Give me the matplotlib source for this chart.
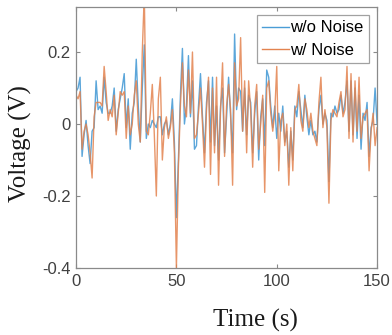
import matplotlib
matplotlib.use("Agg")
import matplotlib.pyplot as plt
import numpy as np

time_s = list(range(0, 151))

voltage_wo_noise = [
    0.09, 0.10, 0.13, -0.09, -0.03, 0.01, -0.06, -0.11, -0.02, -0.01,
    0.12, 0.04, 0.05, 0.03, 0.13, 0.06, 0.03, 0.03, 0.05, 0.10,
    -0.02, 0.04, 0.07, 0.10, 0.14, -0.01, 0.07, -0.07, 0.03, 0.06,
    0.18, 0.05, -0.05, 0.10, 0.22, -0.04, 0.00, -0.01, 0.01, 0.00,
    -0.01, 0.02, 0.02, -0.03, 0.00, 0.01, -0.03, 0.00, 0.07, -0.05,
    -0.26, -0.10, 0.08, 0.21, 0.00, 0.05, 0.19, 0.02, 0.12, -0.07,
    -0.06, 0.05, 0.14, 0.02, -0.08, 0.06, 0.12, -0.05, 0.13, -0.06,
    0.05, -0.10, 0.05, 0.10, -0.08, 0.02, 0.13, 0.02, -0.08, 0.25,
    0.04, 0.10, 0.09, -0.02, 0.10, -0.03, 0.08, 0.06, -0.08, 0.03,
    0.09, -0.10, 0.02, 0.07, -0.06, 0.15, 0.13, 0.05, -0.01, 0.05,
    -0.04, 0.03, -0.02, 0.05, -0.05, -0.02, -0.12, -0.02, -0.10, 0.05,
    0.02, 0.09, 0.04, -0.01, 0.08, 0.02, -0.03, 0.01, -0.03, -0.02,
    -0.05, 0.04, 0.08, 0.00, 0.03, 0.01, -0.16, 0.03, 0.02, 0.05,
    0.03, 0.04, 0.08, 0.03, 0.06, 0.12, -0.02, 0.12, -0.03, 0.10,
    -0.04, 0.08, -0.07, 0.03, 0.01, 0.06, -0.09, -0.01, 0.01, 0.10,
    0.00,
]

voltage_w_noise = [
    0.08, 0.07, 0.09, -0.07, -0.02, 0.00, -0.03, -0.08, -0.15, 0.02,
    0.06, 0.06, 0.06, 0.05, 0.16, 0.09, 0.01, 0.04, 0.02, 0.08,
    -0.03, 0.03, 0.09, 0.08, 0.09, -0.04, 0.05, -0.03, 0.00, 0.08,
    0.12, 0.00, -0.05, 0.20, 0.36, -0.02, -0.03, 0.03, 0.11, -0.03,
    -0.20, 0.07, 0.13, -0.10, -0.01, 0.02, -0.04, -0.01, 0.04, -0.08,
    -0.40, -0.12, 0.05, 0.17, 0.05, 0.02, 0.15, 0.03, 0.20, -0.04,
    -0.03, 0.03, 0.10, 0.00, -0.12, 0.04, 0.13, -0.14, 0.10, -0.08,
    0.13, -0.17, 0.04, 0.17, -0.09, 0.05, 0.11, 0.04, -0.17, 0.17,
    0.05, 0.07, 0.24, -0.02, 0.12, -0.08, 0.12, 0.04, -0.12, 0.05,
    0.11, -0.07, 0.00, 0.08, -0.19, 0.10, 0.12, 0.03, -0.02, 0.03,
    0.16, -0.13, 0.01, 0.03, -0.06, 0.00, -0.17, -0.01, -0.13, 0.04,
    0.05, 0.11, 0.01, -0.02, 0.07, 0.04, -0.01, 0.03, -0.02, -0.04,
    -0.06, 0.06, 0.13, -0.01, 0.04, -0.01, -0.22, 0.01, 0.04, 0.03,
    0.02, 0.06, 0.09, 0.02, 0.04, 0.16, -0.04, 0.14, -0.05, 0.12,
    -0.02, 0.13, -0.04, 0.02, 0.03, 0.04, -0.13, -0.02, 0.03, -0.06,
    -0.01,
]

series_labels = ["w/o Noise", "w/ Noise"]
x_ticks = [0, 50, 100, 150]
y_ticks = [-0.4, -0.2, 0, 0.2]
y_tick_labels = ["-0.4", "-0.2", "0", "0.2"]

sans = ["Liberation Sans", "DejaVu Sans"]
serif = ["Liberation Serif", "DejaVu Serif"]

fig = plt.figure(figsize=(3.92, 3.35), dpi=100)
ax = fig.add_axes([0.194, 0.2, 0.768, 0.779])

ax.plot(time_s, voltage_wo_noise, color="#4a9dd6", lw=1.0, alpha=0.9, label=series_labels[0])
ax.plot(time_s, voltage_w_noise, color="#e3834f", lw=1.0, alpha=0.85, label=series_labels[1])

ax.set_xlim(0, 150)
ax.set_ylim(-0.4, 0.325)
ax.set_xticks(x_ticks)
ax.set_yticks(y_ticks)
ax.set_yticklabels(y_tick_labels)

for s in ax.spines.values():
    s.set_color("#8a8a8a")
    s.set_linewidth(0.9)
ax.tick_params(direction="in", length=3, width=0.8, color="#8a8a8a",
               top=True, right=True, labelsize=12, labelcolor="#404040", pad=4)
for lab in ax.get_xticklabels() + ax.get_yticklabels():
    lab.set_family(sans)

ax.set_xlabel("Time (s)", family=serif, fontsize=18, color="#1a1a1a")
ax.set_ylabel("Voltage (V)", family=serif, fontsize=18, color="#1a1a1a")
ax.xaxis.set_label_coords(0.595, -0.155)
ax.yaxis.set_label_coords(-0.145, 0.475)

leg = ax.legend(loc="upper right", prop={"family": sans, "size": 12},
                frameon=True, fancybox=False, handlelength=1.6,
                handletextpad=0.1, borderpad=0.3, labelspacing=0.45,
                borderaxespad=0.5)
leg.get_frame().set_edgecolor("#8a8a8a")
leg.get_frame().set_linewidth(0.9)
for line in leg.get_lines():
    line.set_alpha(1.0)

fig.savefig("out.png", dpi=100)
